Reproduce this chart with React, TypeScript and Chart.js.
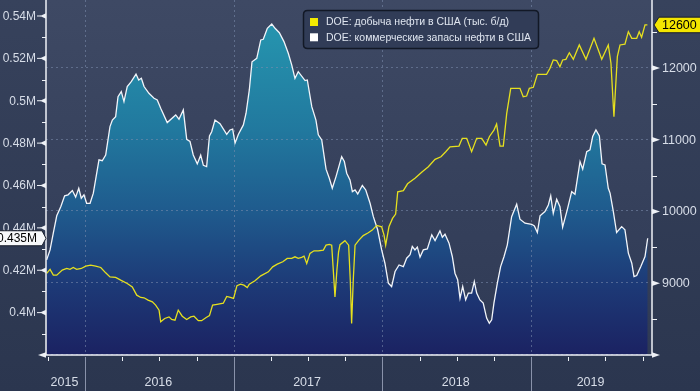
import React, { useEffect, useRef } from 'react';
import { Chart, registerables } from 'chart.js';

Chart.register(...registerables);

// ---------- data ----------
const PROD_LABEL = 'DOE: добыча нефти в США (тыс. б/д)';
const INV_LABEL = 'DOE: коммерческие запасы нефти в США';

// commercial crude inventories (million barrels), x = decimal year
const invT = [2015.742,2015.765,2015.787,2015.810,2015.837,2015.863,2015.886,2015.915,2015.937,2015.958,
2015.975,2015.993,2016.011,2016.034,2016.056,2016.094,2016.116,2016.139,2016.168,2016.184,
2016.206,2016.222,2016.244,2016.262,2016.284,2016.311,2016.343,2016.361,2016.379,2016.397,
2016.430,2016.464,2016.486,2016.509,2016.553,2016.610,2016.632,2016.661,2016.684,2016.706,
2016.728,2016.755,2016.778,2016.796,2016.818,2016.837,2016.852,2016.874,2016.908,2016.953,
2016.975,2016.993,2017.009,2017.031,2017.065,2017.083,2017.105,2017.123,2017.155,2017.182,
2017.199,2017.226,2017.256,2017.278,2017.307,2017.338,2017.367,2017.390,2017.412,2017.434,
2017.480,2017.495,2017.525,2017.553,2017.569,2017.592,2017.621,2017.643,2017.663,2017.688,
2017.726,2017.744,2017.760,2017.782,2017.798,2017.816,2017.834,2017.865,2017.888,2017.917,
2017.939,2017.968,2017.995,2018.017,2018.040,2018.062,2018.085,2018.112,2018.141,2018.163,
2018.186,2018.201,2018.219,2018.235,2018.253,2018.275,2018.302,2018.332,2018.354,2018.387,
2018.403,2018.421,2018.448,2018.470,2018.488,2018.506,2018.522,2018.540,2018.560,2018.578,
2018.600,2018.618,2018.634,2018.656,2018.678,2018.701,2018.719,2018.735,2018.750,2018.773,
2018.795,2018.818,2018.840,2018.869,2018.903,2018.925,2018.959,2019.004,2019.022,2019.042,
2019.060,2019.093,2019.116,2019.132,2019.149,2019.172,2019.194,2019.212,2019.243,2019.273,
2019.295,2019.329,2019.347,2019.374,2019.396,2019.414,2019.436,2019.459,2019.477,2019.497,
2019.519,2019.531,2019.553,2019.575,2019.609,2019.631,2019.654,2019.677,2019.692,2019.710,
2019.737,2019.766,2019.784];
const invV = [424.9,429.6,437.6,445.7,450.0,455.1,455.6,457.6,454.5,458.7,
454.0,455.6,451.6,451.6,456.4,472.1,471.7,474.4,487.8,490.9,
492.5,501.9,504.3,499.6,506.7,509.0,512.6,509.8,510.6,506.7,
503.5,501.2,500.4,496.5,489.7,493.3,491.3,495.7,481.8,480.8,
474.4,470.2,474.3,469.5,468.9,483.4,485.4,490.9,489.2,484.1,
486.2,486.6,480.0,484.1,488.6,494.1,505.1,518.4,520.0,528.7,
529.0,534.2,536.2,534.2,532.1,527.9,522.4,516.9,510.6,513.7,
509.5,509.8,497.2,490.9,483.9,481.5,467.7,463.4,458.7,464.2,
473.6,471.3,465.8,462.6,457.1,457.9,456.0,460.0,457.9,451.6,
445.3,439.1,429.6,423.3,413.9,412.3,419.4,422.5,421.7,425.7,
427.3,431.2,429.6,430.9,426.2,429.6,430.1,436.7,434.0,438.6,
435.6,437.0,432.8,426.5,418.6,415.5,406.8,412.3,406.0,409.2,
409.2,414.7,409.2,406.0,404.5,397.4,395.0,396.6,404.5,413.9,
421.7,426.5,432.0,445.3,451.2,444.1,442.2,441.7,440.9,437.8,
445.7,447.7,450.8,455.1,446.9,453.5,450.0,440.3,448.5,457.1,
455.9,471.3,467.7,476.0,476.8,483.1,486.2,483.4,470.2,469.7,
458.7,456.4,447.7,437.8,440.6,439.1,428.1,423.3,417.0,417.5,
421.7,426.5,435.1];

// crude production (thousand b/d), x = decimal year
const prodT = [2015.742,2015.765,2015.787,2015.810,2015.847,2015.877,2015.899,2015.921,2015.944,2015.975,
2016.005,2016.038,2016.072,2016.106,2016.139,2016.168,2016.206,2016.240,2016.284,2016.318,
2016.348,2016.375,2016.397,2016.424,2016.453,2016.475,2016.498,2016.509,2016.536,2016.565,
2016.583,2016.605,2016.627,2016.654,2016.684,2016.711,2016.733,2016.762,2016.784,2016.815,
2016.837,2016.858,2016.888,2016.930,2016.953,2016.977,2016.999,2017.022,2017.046,2017.069,
2017.091,2017.105,2017.143,2017.182,2017.233,2017.262,2017.293,2017.330,2017.360,2017.390,
2017.412,2017.434,2017.457,2017.473,2017.491,2017.513,2017.540,2017.569,2017.603,2017.621,
2017.643,2017.659,2017.671,2017.681,2017.694,2017.705,2017.715,2017.748,2017.773,2017.784,
2017.793,2017.804,2017.816,2017.842,2017.871,2017.905,2017.932,2017.962,2017.995,2018.011,
2018.022,2018.044,2018.068,2018.089,2018.103,2018.141,2018.169,2018.219,2018.268,2018.309,
2018.354,2018.394,2018.426,2018.455,2018.515,2018.537,2018.567,2018.600,2018.634,2018.668,
2018.697,2018.719,2018.750,2018.768,2018.791,2018.813,2018.836,2018.863,2018.925,2018.947,
2018.970,2018.988,2019.015,2019.042,2019.104,2019.127,2019.149,2019.172,2019.194,2019.212,
2019.234,2019.257,2019.284,2019.324,2019.369,2019.423,2019.475,2019.519,2019.537,2019.557,
2019.580,2019.598,2019.631,2019.654,2019.677,2019.710,2019.727,2019.743,2019.766,2019.782];
const prodV = [9137,9193,9113,9113,9183,9206,9193,9220,9193,9206,
9239,9252,9239,9220,9145,9089,9081,9043,8997,8950,
8834,8802,8797,8764,8741,8695,8625,8462,8509,8531,
8495,8485,8625,8541,8495,8531,8541,8478,8478,8523,
8548,8695,8706,8722,8816,8802,8788,8967,8987,8973,
8941,8987,9034,9103,9159,9229,9266,9299,9346,9346,
9368,9346,9360,9378,9276,9416,9452,9452,9462,9531,
9541,9531,9141,8810,9183,9434,9538,9594,9531,9043,
8439,9043,9531,9601,9664,9703,9741,9806,9787,9671,
9531,9787,9904,9964,10275,10291,10386,10462,10554,10623,
10727,10763,10833,10902,10912,11020,11020,10833,11020,11020,
10926,11042,11135,11219,10912,10912,11368,11717,11717,11600,
11609,11717,11731,11912,11912,11996,12112,12102,12018,12112,
12121,12213,12121,12321,12121,12414,12121,12321,12066,11321,
12158,12321,12331,12506,12414,12414,12506,12428,12600,12600];

// axes
const years = [2015, 2016, 2017, 2018, 2019];
const quarterTicks = [2015.75,2016,2016.25,2016.5,2016.75,2017,2017.25,2017.5,2017.75,2018,2018.25,2018.5,2018.75,2019,2019.25,2019.5,2019.75];
const leftMajorVals = [400, 420, 440, 460, 480, 500, 520, 540];
const leftMajorLabels = ['0.4M', '0.42M', '0.44M', '0.46M', '0.48M', '0.5M', '0.52M', '0.54M'];
const leftMinorVals = [390, 410, 430, 450, 470, 490, 510, 530];
const rightMajorVals = [9000, 10000, 11000, 12000];
const rightMajorLabels = ['9000', '10000', '11000', '12000'];
const rightMinorVals = [8500, 9500, 10500, 11500, 12500];
const gridVals = [8000, 9000, 10000, 11000, 12000];

const X_MIN = 2015.7377, X_MAX = 2019.813;
const YL_MIN = 380, YL_MAX = 547.55;
const YR_MIN = 8000, YR_MAX = 12947.7;

const FONT = "'Liberation Sans', Arial, sans-serif";
const TEXT = '#d7dde8';
const PROD_COLOR = '#e6e01e';
const INV_COLOR = '#f2f5fa';

const decorPlugin: any = {
  id: 'decor',
  beforeDraw(chart: any) {
    const { ctx, chartArea: ca, width, height } = chart;
    ctx.save();
    let g = ctx.createLinearGradient(0, 0, 0, height);
    g.addColorStop(0, '#37425c');
    g.addColorStop(1, '#2b364f');
    ctx.fillStyle = g;
    ctx.fillRect(0, 0, width, height);
    g = ctx.createLinearGradient(0, ca.top, 0, ca.bottom);
    g.addColorStop(0, '#3e4964');
    g.addColorStop(1, '#2f3a55');
    ctx.fillStyle = g;
    ctx.fillRect(ca.left, ca.top, ca.right - ca.left, ca.bottom - ca.top);
    ctx.restore();
  },
  afterDatasetDraw(chart: any, args: any) {
    if (args.index !== 2) return;
    const { ctx, chartArea: ca } = chart;
    const yR = chart.scales.yR;
    const x = chart.scales.x;
    ctx.save();
    ctx.beginPath();
    ctx.rect(ca.left, ca.top, ca.right - ca.left, ca.bottom - ca.top);
    ctx.clip();
    ctx.strokeStyle = 'rgba(125,142,175,0.55)';
    ctx.lineWidth = 1;
    ctx.setLineDash([2, 3]);
    gridVals.forEach((v) => {
      const y = Math.round(yR.getPixelForValue(v)) - 0.5;
      ctx.beginPath();
      ctx.moveTo(ca.left, y);
      ctx.lineTo(ca.right, y);
      ctx.stroke();
    });
    years.slice(1).forEach((yr) => {
      const px = Math.round(x.getPixelForValue(yr)) + 0.5;
      ctx.beginPath();
      ctx.moveTo(px, ca.top);
      ctx.lineTo(px, ca.bottom);
      ctx.stroke();
    });
    ctx.restore();
  },
  afterDraw(chart: any) {
    const { ctx, chartArea: ca, height } = chart;
    const x = chart.scales.x;
    const yL = chart.scales.yL;
    const yR = chart.scales.yR;
    ctx.save();
    const W = '#eef1f6';
    ctx.strokeStyle = W;
    ctx.fillStyle = W;
    ctx.lineWidth = 1.5;
    // axis lines
    ctx.beginPath();
    ctx.moveTo(ca.left, 0);
    ctx.lineTo(ca.left, ca.bottom);
    ctx.moveTo(ca.right, 0);
    ctx.lineTo(ca.right, ca.bottom);
    ctx.moveTo(ca.left - 2, ca.bottom);
    ctx.lineTo(ca.right + 2, ca.bottom);
    ctx.stroke();
    const tri = (x0: number, y0: number, tip: number) => {
      ctx.beginPath();
      ctx.moveTo(x0, y0 - 2.8);
      ctx.lineTo(tip, y0);
      ctx.lineTo(x0, y0 + 2.8);
      ctx.closePath();
      ctx.fill();
    };
    tri(ca.left, ca.bottom, ca.left - 8);
    tri(ca.right, ca.bottom, ca.right + 8);
    ctx.lineWidth = 1;
    // left ticks
    leftMajorVals.forEach((v) => {
      const y = yL.getPixelForValue(v);
      tri(ca.left, y, ca.left - 6);
      ctx.beginPath();
      ctx.moveTo(ca.left - 9, y);
      ctx.lineTo(ca.left - 5, y);
      ctx.stroke();
    });
    leftMinorVals.forEach((v) => {
      const y = Math.round(yL.getPixelForValue(v)) + 0.5;
      ctx.beginPath();
      ctx.moveTo(ca.left - 4, y);
      ctx.lineTo(ca.left, y);
      ctx.stroke();
    });
    // right ticks
    rightMajorVals.forEach((v) => {
      tri(ca.right, yR.getPixelForValue(v), ca.right + 8);
    });
    rightMinorVals.forEach((v) => {
      const y = Math.round(yR.getPixelForValue(v)) + 0.5;
      ctx.beginPath();
      ctx.moveTo(ca.right, y);
      ctx.lineTo(ca.right + 5, y);
      ctx.stroke();
    });
    // x ticks and year separators
    quarterTicks.forEach((q) => {
      const px = Math.round(x.getPixelForValue(q)) + 0.5;
      ctx.beginPath();
      if (Math.abs(q - Math.round(q)) < 1e-6) {
        ctx.strokeStyle = '#8992aa';
        ctx.moveTo(px, ca.bottom + 2);
        ctx.lineTo(px, height);
      } else {
        ctx.strokeStyle = W;
        ctx.moveTo(px, ca.bottom + 2);
        ctx.lineTo(px, ca.bottom + 6);
      }
      ctx.stroke();
    });
    // tick labels
    ctx.fillStyle = TEXT;
    ctx.textBaseline = 'middle';
    ctx.font = `12px ${FONT}`;
    ctx.textAlign = 'right';
    leftMajorVals.forEach((v, i) => {
      ctx.fillText(leftMajorLabels[i], ca.left - 10, yL.getPixelForValue(v) + 0.5);
    });
    ctx.font = `12.5px ${FONT}`;
    ctx.textAlign = 'left';
    rightMajorVals.forEach((v, i) => {
      ctx.fillText(rightMajorLabels[i], ca.right + 10, yR.getPixelForValue(v) + 0.5);
    });
    ctx.textAlign = 'center';
    years.forEach((yr) => {
      const a = Math.max(ca.left, x.getPixelForValue(yr));
      const b = Math.min(ca.right, x.getPixelForValue(yr + 1));
      ctx.fillText(String(yr), (a + b) / 2 - 1, 383);
    });

    // legend
    const ds = chart.data.datasets;
    const lx = 303.5, ly = 10.5, lw = 235, lh = 38, r = 4;
    ctx.beginPath();
    ctx.moveTo(lx + r, ly);
    ctx.lineTo(lx + lw - r, ly);
    ctx.quadraticCurveTo(lx + lw, ly, lx + lw, ly + r);
    ctx.lineTo(lx + lw, ly + lh - r);
    ctx.quadraticCurveTo(lx + lw, ly + lh, lx + lw - r, ly + lh);
    ctx.lineTo(lx + r, ly + lh);
    ctx.quadraticCurveTo(lx, ly + lh, lx, ly + lh - r);
    ctx.lineTo(lx, ly + r);
    ctx.quadraticCurveTo(lx, ly, lx + r, ly);
    ctx.closePath();
    ctx.fillStyle = '#313c57';
    ctx.fill();
    ctx.strokeStyle = '#121826';
    ctx.lineWidth = 1.5;
    ctx.stroke();
    const items = [
      { color: '#f2ea00', label: ds[0].label, y: 22 },
      { color: '#ffffff', label: ds[1].label, y: 37.3 },
    ];
    ctx.font = `10.5px ${FONT}`;
    ctx.textAlign = 'left';
    items.forEach((it) => {
      ctx.fillStyle = it.color;
      ctx.fillRect(310, it.y - 4, 8, 8);
      ctx.fillStyle = '#dfe5ef';
      ctx.fillText(it.label, 326, it.y + 0.5);
    });

    // last-value tags
    const lastInv = invV[invV.length - 1];
    const yi = yL.getPixelForValue(lastInv);
    ctx.beginPath();
    ctx.moveTo(-2, yi - 7.5);
    ctx.lineTo(ca.left - 4, yi - 7.5);
    ctx.lineTo(ca.left, yi);
    ctx.lineTo(ca.left - 4, yi + 7.5);
    ctx.lineTo(-2, yi + 7.5);
    ctx.closePath();
    ctx.fillStyle = '#f7f8fa';
    ctx.fill();
    ctx.strokeStyle = '#1a1f2c';
    ctx.lineWidth = 1;
    ctx.stroke();
    ctx.fillStyle = '#000000';
    ctx.font = `12px ${FONT}`;
    ctx.textAlign = 'right';
    ctx.fillText((lastInv / 1000).toFixed(3) + 'M', ca.left - 9, yi + 0.5);

    const lastProd = prodV[prodV.length - 1];
    const yp = yR.getPixelForValue(lastProd);
    ctx.beginPath();
    ctx.moveTo(ca.right + 2, yp);
    ctx.lineTo(ca.right + 7, yp - 7.8);
    ctx.lineTo(702, yp - 7.8);
    ctx.lineTo(702, yp + 7.8);
    ctx.lineTo(ca.right + 7, yp + 7.8);
    ctx.closePath();
    ctx.fillStyle = '#f3e600';
    ctx.fill();
    ctx.strokeStyle = '#1a1f2c';
    ctx.stroke();
    ctx.fillStyle = '#000000';
    ctx.font = `12.5px ${FONT}`;
    ctx.textAlign = 'left';
    ctx.fillText(String(lastProd), ca.right + 10, yp + 0.5);
    ctx.restore();
  },
};

export default function App() {
  const ref = useRef<HTMLCanvasElement | null>(null);

  useEffect(() => {
    document.body.style.margin = '0';
    const canvas = ref.current;
    if (!canvas) return;
    const invPts = invT.map((t, i) => ({ x: t, y: invV[i] }));
    const prodPts = prodT.map((t, i) => ({ x: t, y: prodV[i] }));

    const chart = new Chart(canvas, {
      type: 'line',
      data: {
        datasets: [
          {
            label: PROD_LABEL,
            data: prodPts,
            yAxisID: 'yR',
            borderColor: PROD_COLOR,
            borderWidth: 1.3,
            pointRadius: 0,
            tension: 0,
            fill: false,
            order: 1,
          },
          {
            label: INV_LABEL,
            data: invPts,
            yAxisID: 'yL',
            borderColor: INV_COLOR,
            borderWidth: 1.3,
            pointRadius: 0,
            tension: 0,
            fill: false,
            order: 2,
          },
          {
            label: 'fill',
            data: invPts,
            yAxisID: 'yL',
            borderWidth: 0,
            borderColor: 'rgba(0,0,0,0)',
            pointRadius: 0,
            tension: 0,
            fill: 'start',
            order: 3,
            backgroundColor: (c: any) => {
              const ca = c.chart.chartArea;
              if (!ca) return 'rgba(0,0,0,0)';
              const g = c.chart.ctx.createLinearGradient(0, ca.top, 0, ca.bottom);
              g.addColorStop(0, '#2699b4');
              g.addColorStop(0.1, '#2592ad');
              g.addColorStop(0.37, '#21789e');
              g.addColorStop(0.6, '#1f5a8d');
              g.addColorStop(0.8, '#1d3a77');
              g.addColorStop(1, '#1b2262');
              return g;
            },
          },
        ] as any,
      },
      options: {
        animation: false,
        responsive: false,
        maintainAspectRatio: false,
        layout: { padding: 0, autoPadding: false },
        plugins: { legend: { display: false }, tooltip: { enabled: false } },
        scales: {
          x: {
            type: 'linear',
            min: X_MIN,
            max: X_MAX,
            afterFit: (s: any) => { s.height = 36; },
            ticks: { display: false },
            grid: { display: false },
            border: { display: false },
          },
          yL: {
            type: 'linear',
            position: 'left',
            min: YL_MIN,
            max: YL_MAX,
            afterFit: (s: any) => { s.width = 46; },
            ticks: { display: false },
            grid: { display: false },
            border: { display: false },
          },
          yR: {
            type: 'linear',
            position: 'right',
            min: YR_MIN,
            max: YR_MAX,
            afterFit: (s: any) => { s.width = 48; },
            ticks: { display: false },
            grid: { display: false },
            border: { display: false },
          },
        },
      } as any,
      plugins: [decorPlugin],
    });
    return () => chart.destroy();
  }, []);

  return (
    <div style={{ position: 'fixed', left: 0, top: 0, width: 700, height: 391, background: '#2f3a54' }}>
      <canvas ref={ref} width={700} height={391} style={{ display: 'block', width: 700, height: 391 }} />
    </div>
  );
}
